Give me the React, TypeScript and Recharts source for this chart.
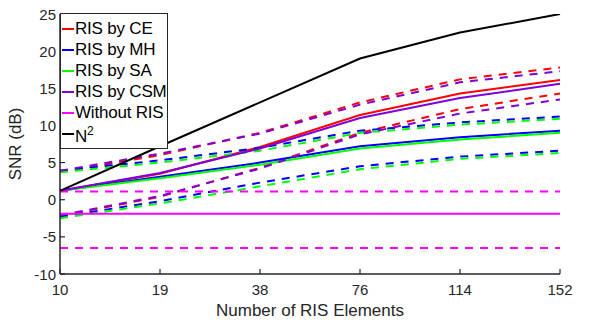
import { LineChart, Line, XAxis, YAxis, Legend, Label } from 'recharts'

const AXIS = '#262626'
const FONT = '"Liberation Sans", Arial, Helvetica, sans-serif'

const RED = '#FF0000'
const BLUE = '#0000FF'
const GREEN = '#00FF00'
const PURPLE = '#7F00D9'
const MAGENTA = '#FF00FF'
const BLACK = '#000000'

// number of RIS elements (categories)
const elements = ['10', '19', '38', '76', '114', '152']
const yTicks = [-10, -5, 0, 5, 10, 15, 20, 25]

// solid = mean, hi / lo = dashed bounds
const ceMean = [1.2, 3.5, 7.1, 11.4, 14.3, 16.1]
const ceHi = [3.7, 6.0, 9.0, 13.1, 16.2, 17.8]
const ceLo = [-2.2, 0.4, 4.3, 9.0, 12.2, 14.3]

const mhMean = [1.2, 3.1, 5.0, 7.2, 8.4, 9.3]
const mhHi = [3.9, 5.3, 7.0, 9.3, 10.4, 11.2]
const mhLo = [-2.3, -0.2, 2.3, 4.5, 5.8, 6.6]

const saMean = [1.2, 2.9, 4.7, 6.9, 8.1, 9.0]
const saHi = [3.7, 5.0, 6.6, 9.0, 10.1, 10.9]
const saLo = [-2.5, -0.5, 1.8, 4.1, 5.5, 6.3]

const csmMean = [1.2, 3.6, 6.9, 11.0, 13.7, 15.6]
const csmHi = [3.9, 6.2, 8.9, 12.8, 15.8, 17.3]
const csmLo = [-2.1, 0.5, 4.2, 8.8, 11.6, 13.5]

const noRisMean = [-1.9, -1.9, -1.9, -1.9, -1.9, -1.9]
const noRisHi = [1.1, 1.1, 1.1, 1.1, 1.1, 1.1]
const noRisLo = [-6.5, -6.5, -6.5, -6.5, -6.5, -6.5]

const nSquared = [1.2, 7.2, 13.1, 19.0, 22.5, 25.0]

const data = elements.map((n, i) => ({
  n,
  ceMean: ceMean[i], ceHi: ceHi[i], ceLo: ceLo[i],
  mhMean: mhMean[i], mhHi: mhHi[i], mhLo: mhLo[i],
  saMean: saMean[i], saHi: saHi[i], saLo: saLo[i],
  csmMean: csmMean[i], csmHi: csmHi[i], csmLo: csmLo[i],
  noRisMean: noRisMean[i], noRisHi: noRisHi[i], noRisLo: noRisLo[i],
  nSquared: nSquared[i],
}))

const series = [
  { key: 'ce', label: 'RIS by CE', color: RED },
  { key: 'mh', label: 'RIS by MH', color: BLUE },
  { key: 'sa', label: 'RIS by SA', color: GREEN },
  { key: 'csm', label: 'RIS by CSM', color: PURPLE },
  { key: 'noRis', label: 'Without RIS', color: MAGENTA },
]

const DASH = '8 7'

/* eslint-disable @typescript-eslint/no-explicit-any */
const BottomTick = ({ x, y, payload }: any) => (
  <g>
    <line x1={x} x2={x} y1={y} y2={y - 5} stroke={AXIS} strokeWidth={1.2} />
    <text x={x} y={y + 21} textAnchor="middle" fill={AXIS} fontSize={15} fontFamily={FONT}>
      {payload.value}
    </text>
  </g>
)

const TopTick = ({ x, y }: any) => (
  <line x1={x} x2={x} y1={y} y2={y + 5} stroke={AXIS} strokeWidth={1.2} />
)

const LeftTick = ({ x, y, payload }: any) => (
  <g>
    <line x1={x} x2={x + 5} y1={y} y2={y} stroke={AXIS} strokeWidth={1.2} />
    <text x={x - 4} y={y + 5.5} textAnchor="end" fill={AXIS} fontSize={15} fontFamily={FONT}>
      {payload.value}
    </text>
  </g>
)

const RightTick = ({ x, y }: any) => (
  <line x1={x} x2={x - 5} y1={y} y2={y} stroke={AXIS} strokeWidth={1.2} />
)

function LegendBox() {
  const items = [...series.map(s => ({ label: <>{s.label}</>, color: s.color })), { label: <>N<sup style={{ fontSize: 12 }}>2</sup></>, color: BLACK }]
  return (
    <div
      style={{
        width: 106,
        height: 130,
        border: `1.5px solid ${AXIS}`,
        background: '#fff',
        paddingTop: 4,
        boxSizing: 'content-box',
        fontFamily: FONT,
        fontSize: 17,
        color: '#000',
      }}
    >
      {items.map((it, i) => (
        <div key={i} style={{ display: 'flex', alignItems: 'center', height: 21, whiteSpace: 'nowrap' }}>
          <span style={{ display: 'inline-block', width: 12, height: 2, background: it.color, marginLeft: 1, marginRight: 1 }} />
          <span style={{ lineHeight: '17px', letterSpacing: -0.2 }}>{it.label}</span>
        </div>
      ))}
    </div>
  )
}

export default function App() {
  return (
    <div style={{ position: 'absolute', left: 0, top: 0, background: '#fff' }}>
      <LineChart width={598} height={322} data={data} margin={{ top: 14, right: 38, left: 0, bottom: 0 }}>
        <XAxis
          dataKey="n"
          height={48}
          interval={0}
          tickSize={0}
          tickMargin={0}
          tick={<BottomTick />}
          axisLine={{ stroke: AXIS, strokeWidth: 1.5 }}
          tickLine={false}
        >
          <Label
            content={({ viewBox }: any) => (
              <text x={viewBox.x + viewBox.width / 2} y={viewBox.y + 42} textAnchor="middle" fill={AXIS} fontSize={17} fontFamily={FONT}>
                Number of RIS Elements
              </text>
            )}
          />
        </XAxis>
        <XAxis
          xAxisId="top"
          orientation="top"
          dataKey="n"
          height={0}
          interval={0}
          tickSize={0}
          tickMargin={0}
          tick={<TopTick />}
          axisLine={{ stroke: AXIS, strokeWidth: 1.5 }}
          tickLine={false}
        />
        <YAxis
          width={60}
          domain={[-10, 25]}
          ticks={yTicks}
          interval={0}
          allowDataOverflow
          tickSize={0}
          tickMargin={0}
          tick={<LeftTick />}
          axisLine={{ stroke: AXIS, strokeWidth: 1.5 }}
          tickLine={false}
        >
          <Label
            content={({ viewBox }: any) => {
              const cx = viewBox.x + 21
              const cy = viewBox.y + viewBox.height / 2
              return (
                <text x={cx} y={cy} transform={`rotate(-90 ${cx} ${cy})`} textAnchor="middle" fill={AXIS} fontSize={17} fontFamily={FONT}>
                  SNR (dB)
                </text>
              )
            }}
          />
        </YAxis>
        <YAxis
          yAxisId="right"
          orientation="right"
          width={0}
          domain={[-10, 25]}
          ticks={yTicks}
          interval={0}
          tickSize={0}
          tickMargin={0}
          tick={<RightTick />}
          axisLine={{ stroke: AXIS, strokeWidth: 1.5 }}
          tickLine={false}
        />

        {series.map(s => [
          <Line key={s.key + 'Hi'} dataKey={s.key + 'Hi'} stroke={s.color} strokeWidth={2} strokeDasharray={DASH} dot={false} isAnimationActive={false} />,
          <Line key={s.key + 'Lo'} dataKey={s.key + 'Lo'} stroke={s.color} strokeWidth={2} strokeDasharray={DASH} dot={false} isAnimationActive={false} />,
          <Line key={s.key + 'Mean'} dataKey={s.key + 'Mean'} stroke={s.color} strokeWidth={2} dot={false} isAnimationActive={false} />,
        ])}
        <Line dataKey="nSquared" stroke={BLACK} strokeWidth={2} dot={false} isAnimationActive={false} />

        <Legend
          layout="vertical"
          align="center"
          verticalAlign="middle"
          content={() => <LegendBox />}
          wrapperStyle={{ left: 60, top: 13, width: 'auto', height: 'auto' }}
        />
      </LineChart>
    </div>
  )
}
